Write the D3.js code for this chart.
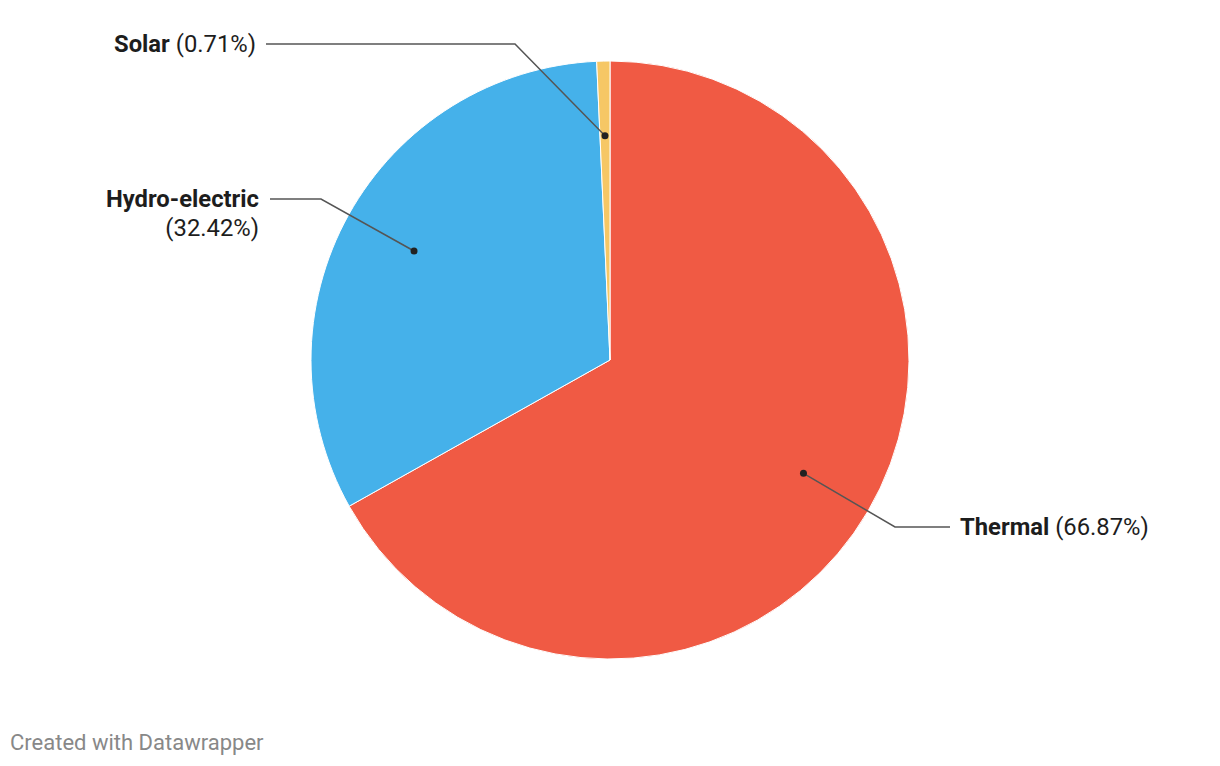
<!DOCTYPE html>
<html>
<head>
<meta charset="utf-8">
<script src="https://cdn.jsdelivr.net/npm/d3@7"></script>
<style>
  body { margin: 0; background: #fff; font-family: Roboto, "Noto Sans", sans-serif; }
  svg text { font-family: Roboto, "Noto Sans", sans-serif; }
</style>
</head>
<body>
<svg id="chart" width="1220" height="766"></svg>
<script>
// Data
const categories = ["Thermal", "Hydro-electric", "Solar"];
const shares = [66.87, 32.42, 0.71];
const colors = ["#f05a44", "#45b1ea", "#f6c765"];

const width = 1220;
const height = 766;
const cx = 610, cy = 360, radius = 299;

const svg = d3.select("#chart");
const g = svg.append("g").attr("transform", `translate(${cx},${cy})`);

const pie = d3.pie().sort(null).value(d => d.value);
const arcs = pie(categories.map((c, i) => ({ name: c, value: shares[i], color: colors[i] })));

const arc = d3.arc().innerRadius(0).outerRadius(radius);
const dotArc = d3.arc().innerRadius(radius * 0.75).outerRadius(radius * 0.75);

g.selectAll("path.slice")
  .data(arcs)
  .enter()
  .append("path")
  .attr("class", "slice")
  .attr("d", arc)
  .attr("fill", d => d.data.color)
  .attr("stroke", "#fff")
  .attr("stroke-width", 1);

// Label layout: elbow point, end of horizontal line, text anchor
const labelLayout = {
  "Thermal":        { elbow: [895, 527], end: [950, 527], tx: 960, ty: 535, anchor: "start", twoLines: false },
  "Hydro-electric": { elbow: [321, 199], end: [270, 199], tx: 259, ty: 207, anchor: "end", twoLines: true },
  "Solar":          { elbow: [515, 44],  end: [266, 44],  tx: 256, ty: 52,  anchor: "end", twoLines: false }
};

const labels = svg.append("g");

arcs.forEach(d => {
  const L = labelLayout[d.data.name];
  const [dx, dy] = dotArc.centroid(d);
  const dot = [cx + dx, cy + dy];

  labels.append("polyline")
    .attr("points", [dot, L.elbow, L.end].map(p => p.join(",")).join(" "))
    .attr("fill", "none")
    .attr("stroke", "#555")
    .attr("stroke-width", 1.5);

  labels.append("circle")
    .attr("cx", dot[0])
    .attr("cy", dot[1])
    .attr("r", 3.5)
    .attr("fill", "#222");

  const pct = `(${d.data.value.toFixed(2)}%)`;
  const t = labels.append("text")
    .attr("x", L.tx)
    .attr("y", L.ty)
    .attr("text-anchor", L.anchor)
    .attr("font-size", 23.8)
    .attr("fill", "#1d1d1d");

  t.append("tspan").attr("font-weight", 700).text(d.data.name);
  if (L.twoLines) {
    t.append("tspan").attr("x", L.tx).attr("dy", 29).attr("font-weight", 400).text(pct);
  } else {
    t.append("tspan").attr("font-weight", 400).text(" " + pct);
  }
});

svg.append("text")
  .attr("x", 10)
  .attr("y", 750)
  .attr("font-size", 22)
  .attr("fill", "#888")
  .text("Created with Datawrapper");
</script>
</body>
</html>
